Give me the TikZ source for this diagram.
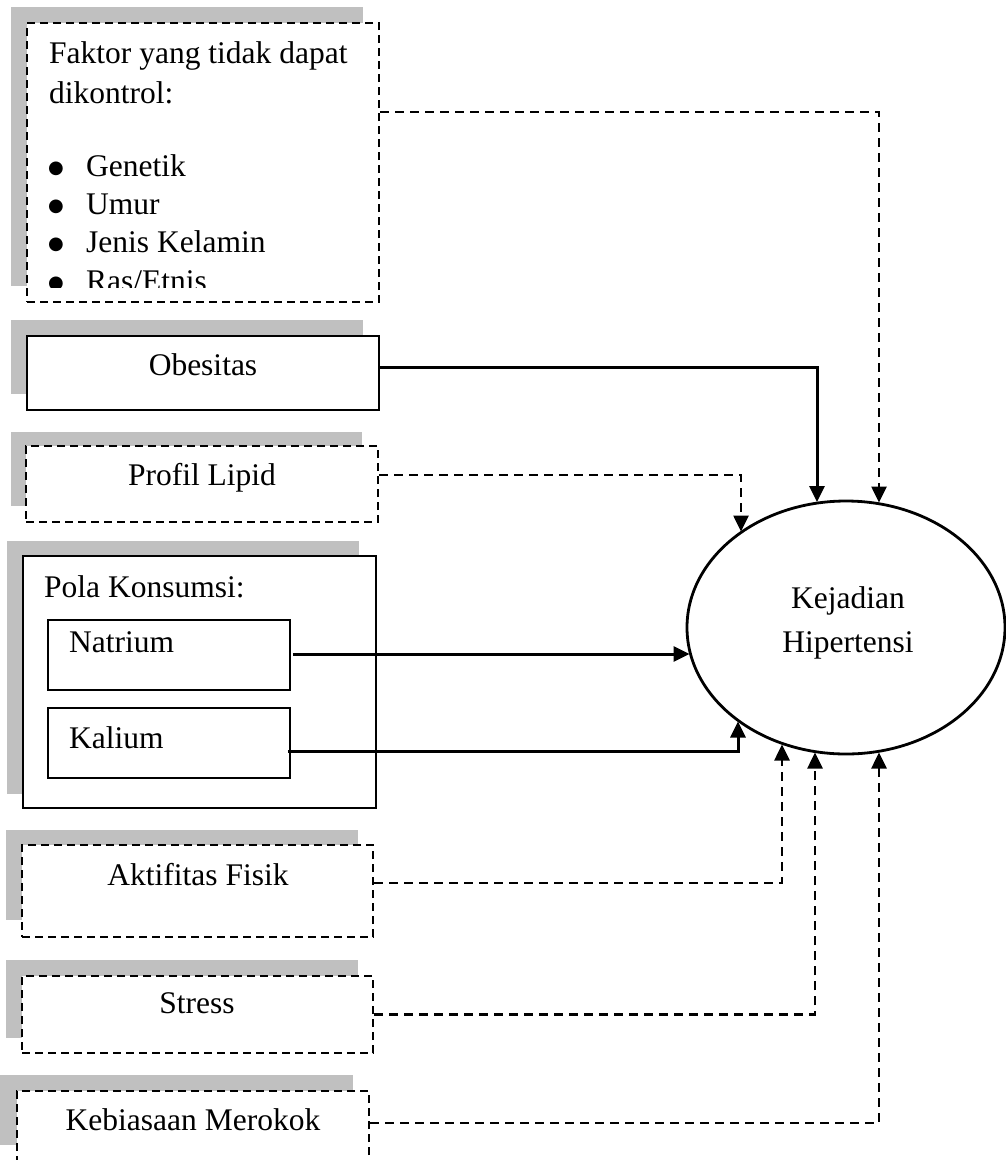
\documentclass[tikz,border=0pt]{standalone}
\usepackage{fontspec}
\setmainfont{Liberation Serif}
\newfontfamily\dejavu{DejaVu Sans}
\usetikzlibrary{arrows.meta,shapes.geometric}
\definecolor{shadowgray}{RGB}{192,192,192}
\begin{document}
\begin{tikzpicture}[x=1pt,y=-1pt,
  every node/.style={font=\fontsize{31.5}{38}\selectfont},
  shadowfill/.style={fill=shadowgray,draw=none},
  dbox/.style={draw,dash pattern=on 8pt off 5pt,line width=2.2pt,fill=white,rectangle,inner sep=0pt},
  sbox/.style={draw,line width=2.8pt,fill=white,rectangle,inner sep=0pt},
  tbox/.style={draw,line width=1.8pt,fill=white,rectangle,inner sep=0pt},
  lbl/.style={inner sep=0pt},
  bul/.style={inner sep=0pt,font=\dejavu\fontsize{18}{18}\selectfont},
  tipend/.style={-{Triangle[length=16pt,width=15pt]}},
  sconn/.style={draw,line width=3pt,tipend},
  dconn/.style={draw,line width=2.6pt,dash pattern=on 9pt off 6pt,tipend},
]
\clip (0,0) rectangle (1006,1160);
\fill[white] (0,0) rectangle (1006,1160);

% shadows
\fill[shadowfill] (11,7) rectangle (363,286);
\fill[shadowfill] (11,320) rectangle (363,394);
\fill[shadowfill] (11,432) rectangle (362,506);
\fill[shadowfill] (7,541) rectangle (359,794);
\fill[shadowfill] (6,830) rectangle (358,920);
\fill[shadowfill] (6,960) rectangle (358,1038);
\fill[shadowfill] (0,1075) rectangle (353,1145);

% boxes
\node[dbox,minimum width=352pt,minimum height=279pt] (F) at (203,162.5) {};
\node[sbox,minimum width=352pt,minimum height=74pt] (O) at (203,373) {};
\node[dbox,minimum width=352pt,minimum height=76pt] (P) at (202,484) {};
\node[sbox,minimum width=353pt,minimum height=252pt] (K) at (199.5,682) {};
\node[tbox,minimum width=242pt,minimum height=70pt] (N) at (169,655) {};
\node[tbox,minimum width=242pt,minimum height=70pt] (Ka) at (169,743) {};
\node[dbox,minimum width=351pt,minimum height=92pt] (A) at (197.5,891) {};
\node[dbox,minimum width=351pt,minimum height=77pt] (S) at (197.5,1014.5) {};
\node[dbox,minimum width=352pt,minimum height=89pt] (M) at (193,1135.5) {};

% ellipse
\node[draw,ellipse,line width=2.8pt,minimum width=318pt,minimum height=253pt,inner sep=0pt] (E) at (846,627.5) {};

% texts of the first box, clipped
\begin{scope}
\clip (27,23) rectangle (379,287);
\node[lbl,anchor=base west] (f1) at (49,63) {Faktor yang tidak dapat};
\node[lbl,anchor=base west] (f2) at (49,103) {dikontrol:};
\node[bul,anchor=base] (b1) at (56,173) {●};
\node[bul,anchor=base] (b2) at (56,211) {●};
\node[bul,anchor=base] (b3) at (56,249) {●};
\node[bul,anchor=base] (b4) at (56,288) {●};
\node[lbl,anchor=base west] (g1) at (86,176) {Genetik};
\node[lbl,anchor=base west] (g2) at (86,214) {Umur};
\node[lbl,anchor=base west] (g3) at (86,252) {Jenis Kelamin};
\node[lbl,anchor=base west] (g4) at (86,291) {Ras/Etnis};
\end{scope}

\node[lbl,anchor=base] (to) at (203,375) {Obesitas};
\node[lbl,anchor=base] (tp) at (202,485) {Profil Lipid};
\node[lbl,anchor=base west] (tk) at (44,597) {Pola Konsumsi:};
\node[lbl,anchor=base west] (tn) at (69,652) {Natrium};
\node[lbl,anchor=base west] (tka) at (69,748) {Kalium};
\node[lbl,anchor=base] (ta) at (198,885) {Aktifitas Fisik};
\node[lbl,anchor=base] (ts) at (197,1013) {Stress};
\node[lbl,anchor=base] (tm) at (193,1130) {Kebiasaan Merokok};
\node[lbl,anchor=base] (k1) at (848,608) {Kejadian};
\node[lbl,anchor=base] (k2) at (848,652) {Hipertensi};

% points on the ellipse
\coordinate (eF) at (879,502.5);
\coordinate (eO) at (817,502);
\coordinate (eP) at (741,531.5);
\coordinate (eN) at (689.5,654);
\coordinate (eKa) at (738,721.5);
\coordinate (eA) at (782,744.5);
\coordinate (eS) at (815,752.5);
\coordinate (eM) at (879,752.5);

% connectors
\draw[dconn] ([yshift=50.5pt]F.east) -| (eF);
\draw[sconn] ([yshift=6pt]O.east) -| (eO);
\draw[dconn] ([yshift=9pt]P.east) -| (eP);
\draw[sconn] ([xshift=2pt,yshift=1pt]N.east) -- (eN);
\draw[sconn] ([xshift=-3pt,yshift=-8pt]Ka.east) -| (eKa);
\draw[dconn] ([yshift=8pt]A.east) -| (eA);
\draw[dconn] (S.east) -| (eS);
\draw[dconn] ([yshift=12.5pt]M.east) -| (eM);
\end{tikzpicture}
\end{document}
